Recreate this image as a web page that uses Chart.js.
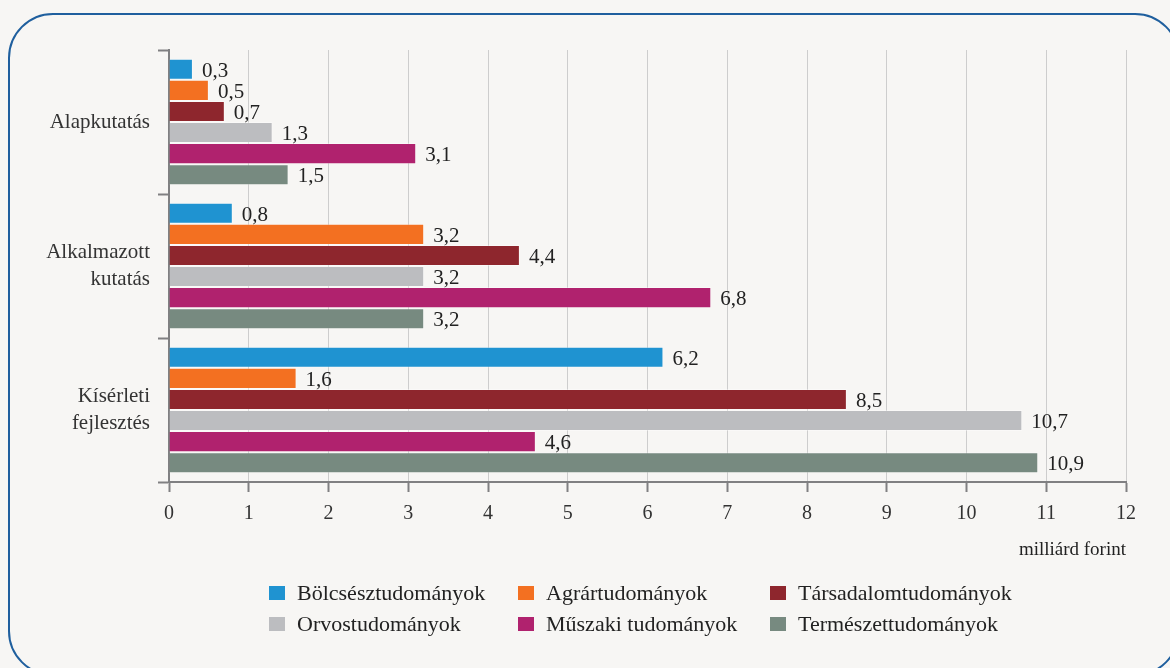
<!DOCTYPE html>
<html>
<head>
<meta charset="utf-8">
<script src="https://cdn.jsdelivr.net/npm/chart.js@4/dist/chart.umd.min.js"></script>
<style>
  html, body { margin: 0; padding: 0; background: #f7f6f4; }
  body { width: 1170px; height: 668px; position: relative; overflow: hidden; }
  .frame {
    position: absolute; left: 8px; top: 13px; width: 1172px; height: 663px;
    border: 2.5px solid #1f5f9e; border-radius: 45px; box-sizing: border-box;
  }
  .wrap { position: absolute; left: 0; top: 0; width: 1170px; height: 570px; }
  #legend { position: absolute; left: 0; top: 0; width: 1170px; height: 668px; pointer-events: none; }
  .item {
    position: absolute; display: flex; align-items: center;
    font: 22px "Liberation Serif", serif; color: #222; white-space: nowrap;
  }
  .box { width: 16px; height: 14px; margin-right: 12px; }
</style>
</head>
<body>
<div class="frame"></div>
<div class="wrap"><canvas id="chart" width="1170" height="570"></canvas></div>
<div id="legend"></div>
<script>
const categories = ['Alapkutatás', ['Alkalmazott', 'kutatás'], ['Kísérleti', 'fejlesztés']]

const seriesNames = [
  'Bölcsésztudományok',
  'Agrártudományok',
  'Társadalomtudományok',
  'Orvostudományok',
  'Műszaki tudományok',
  'Természettudományok'
]

const seriesColors = ['#1f93d1', '#f37021', '#8e262d', '#bcbdc0', '#b0226e', '#778a80']

// one array per series, order: Alapkutatás, Alkalmazott, Kísérleti
const bolcsesz = [0.3, 0.8, 6.2]
const agrar = [0.5, 3.2, 1.6]
const tarsadalom = [0.7, 4.4, 8.5]
const orvos = [1.3, 3.2, 10.7]
const muszaki = [3.1, 6.8, 4.6]
const termeszet = [1.5, 3.2, 10.9]

const xTicks = [0, 1, 2, 3, 4, 5, 6, 7, 8, 9, 10, 11, 12]
const unitLabel = 'milliárd forint'

const values = [bolcsesz, agrar, tarsadalom, orvos, muszaki, termeszet]

Chart.defaults.font.family = '"Liberation Serif", serif'
Chart.defaults.color = '#333'

const valueLabels = {
  id: 'valueLabels',
  afterDatasetsDraw(chart) {
    const ctx = chart.ctx
    ctx.save()
    ctx.font = '21px "Liberation Serif", serif'
    ctx.fillStyle = '#222'
    ctx.textAlign = 'left'
    ctx.textBaseline = 'middle'
    chart.data.datasets.forEach((ds, i) => {
      chart.getDatasetMeta(i).data.forEach((bar, j) => {
        const txt = String(ds.data[j]).replace('.', ',')
        ctx.fillText(txt, bar.x + 9, bar.y + 2)
      })
    })
    ctx.restore()
  }
}

const chart = new Chart(document.getElementById('chart'), {
  type: 'bar',
  data: {
    labels: categories,
    datasets: seriesNames.map((name, i) => ({
      label: name,
      data: values[i],
      backgroundColor: seriesColors[i],
      borderColor: 'rgba(255,255,255,0.35)',
      borderWidth: 1,
      borderSkipped: 'start',
      categoryPercentage: 0.88,
      barPercentage: 1
    }))
  },
  options: {
    indexAxis: 'y',
    responsive: false,
    animation: false,
    layout: { padding: { top: 50, right: 44, left: 0, bottom: 0 } },
    plugins: {
      legend: { display: false },
      tooltip: { enabled: false }
    },
    scales: {
      x: {
        min: 0,
        max: 12,
        afterBuildTicks: (s) => { s.ticks = xTicks.map(v => ({ value: v })) },
        afterFit: (s) => { s.height = 88 },
        ticks: { color: '#333', font: { size: 20 }, padding: 10 },
        grid: { color: '#cdcdcd', lineWidth: 1, tickColor: '#808082', tickWidth: 2, tickLength: 10 },
        border: { color: '#808082', width: 2 },
        title: {
          display: true,
          text: unitLabel,
          align: 'end',
          color: '#222',
          font: { size: 19 },
          padding: { top: 0, bottom: 9 }
        }
      },
      y: {
        afterFit: (s) => { s.width = 169 },
        ticks: { color: '#333', font: { size: 21, lineHeight: 1.3 }, padding: 8 },
        grid: { drawOnChartArea: false, tickColor: '#808082', tickWidth: 2, tickLength: 11 },
        border: { color: '#808082', width: 2 }
      }
    }
  },
  plugins: [valueLabels]
})

// legend, three columns by two rows
const colLeft = [269, 518, 770]
const rowTop = [580, 611]
const legend = document.getElementById('legend')
seriesNames.forEach((name, i) => {
  const el = document.createElement('div')
  el.className = 'item'
  el.style.left = colLeft[i % 3] + 'px'
  el.style.top = rowTop[Math.floor(i / 3)] + 'px'
  el.innerHTML = '<span class="box" style="background:' + seriesColors[i] + '"></span>' + name
  legend.appendChild(el)
})
</script>
</body>
</html>
